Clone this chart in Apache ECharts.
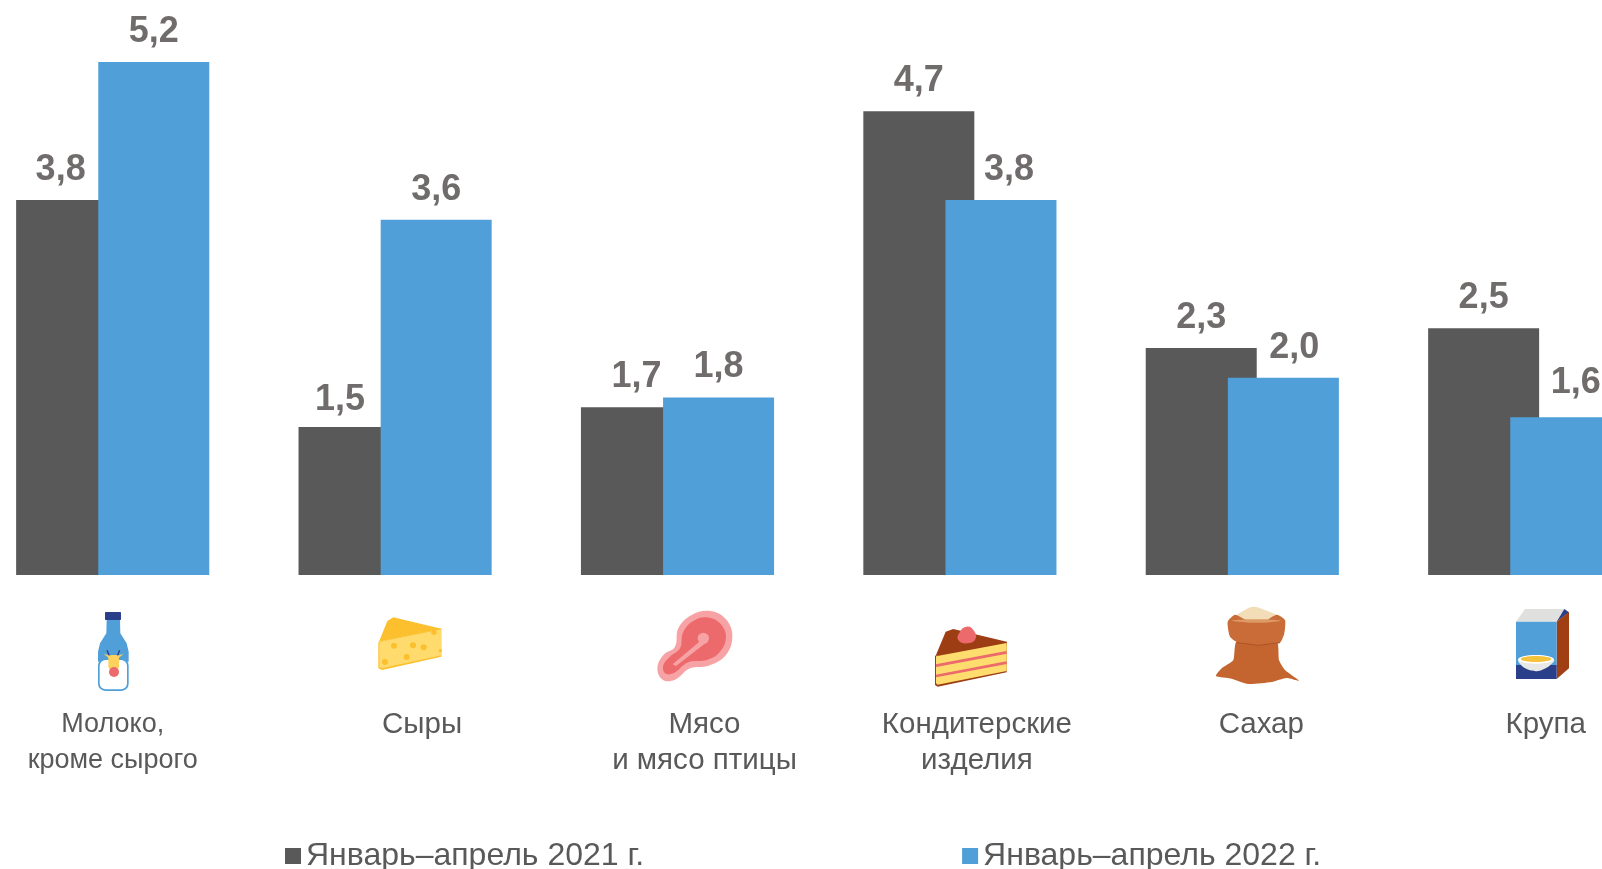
<!DOCTYPE html>
<html>
<head>
<meta charset="utf-8">
<style>
html, body { margin: 0; padding: 0; background: #fff; overflow: hidden; }
#chart { width: 1602px; height: 869px; }
</style>
<script src="https://cdn.jsdelivr.net/npm/echarts@6/dist/echarts.min.js"></script>
</head>
<body>
<div id="chart"></div>
<script>
const categories = ['Молоко,\nкроме сырого', 'Сыры', 'Мясо\nи мясо птицы', 'Кондитерские\nизделия', 'Сахар', 'Крупа']
const seriesNames = ['Январь–апрель 2021 г.', 'Январь–апрель 2022 г.']
const values2021 = [3.8, 1.5, 1.7, 4.7, 2.3, 2.5]
const values2022 = [5.2, 3.6, 1.8, 3.8, 2.0, 1.6]

// подписи в оригинале сдвинуты вручную
const categoryShift = [0, 27, 27, 17, 19, 21]
const categoryFontSize = [27, 29.5, 29.5, 29.5, 29.5, 29.5]
const labelShift2021 = [[-11, 0], [-14, 3], [0, 0], [0, 0], [0, 0], [0, 0]]
const labelShift2022 = [[0, 0], [0, 0], [0, 0], [8, 0], [11, 0], [10, -4]]

const DARK = '#595959'
const BLUE = '#519fd9'
const TEXT = '#595959'
const VALUE_TEXT = '#6f6c6b'
const FONT = '"Liberation Sans", Arial, sans-serif'

function poly(points, fill, smooth) {
    return { type: 'polygon', shape: { points: points, smooth: smooth || 0 }, style: { fill: fill } }
}
function circle(cx, cy, r, fill) {
    return { type: 'circle', shape: { cx: cx, cy: cy, r: r }, style: { fill: fill } }
}
function rect(x, y, w, h, fill, r) {
    return { type: 'rect', shape: { x: x, y: y, width: w, height: h, r: r || 0 }, style: { fill: fill } }
}
function line(x1, y1, x2, y2, color, w) {
    return { type: 'line', shape: { x1: x1, y1: y1, x2: x2, y2: y2 }, style: { stroke: color, lineWidth: w } }
}
function ellipse(cx, cy, rx, ry, fill) {
    return { type: 'ellipse', shape: { cx: cx, cy: cy, rx: rx, ry: ry }, style: { fill: fill } }
}
// иконки рисуем в координатах увеличенного в 3 раза фрагмента
function icon(x, y, children) {
    return { type: 'group', x: x, y: y, scaleX: 1 / 3, scaleY: 1 / 3, silent: true, children: children }
}

const icons = [
    icon(85, 605, [
        poly([[65, 44], [105, 44], [106, 85], [125, 115], [131, 140], [131, 170], [39, 170], [39, 140], [45, 115], [64, 85]], BLUE),
        rect(39, 160, 92, 98, BLUE, 22),
        rect(44, 165, 82, 88, '#fff', 18),
        rect(60, 21, 48, 24, '#2a3f8a', 2),
        line(73, 152, 66, 136, '#2a3f8a', 4),
        line(97, 152, 104, 136, '#2a3f8a', 4),
        poly([[56, 146], [74, 152], [72, 160]], '#fdd25c'),
        poly([[116, 146], [98, 152], [100, 160]], '#fdd25c'),
        rect(70, 150, 32, 44, '#fdd25c', 10),
        circle(87, 201, 15, '#ec6a6b')
    ]),
    icon(370, 605, [
        poly([[27, 110], [52, 48], [70, 37], [214, 71]], '#fcc02e'),
        poly([[25, 110], [214, 70], [214, 155], [36, 195], [25, 190]], '#fbc02d'),
        poly([[28, 111], [214, 73], [214, 151], [35, 190], [28, 186]], '#ffdb6e'),
        circle(72, 122, 9, '#fcc02e'),
        circle(129, 121, 9, '#fcc02e'),
        circle(161, 127, 9, '#fcc02e'),
        circle(110, 156, 9, '#fcc02e'),
        circle(45, 171, 9, '#fcc02e'),
        circle(192, 82, 8, '#fcc02e'),
        circle(211, 137, 5, '#fcc02e')
    ]),
    icon(650, 605, [
        poly([[180, 18], [225, 40], [247, 90], [228, 150], [175, 182], [120, 190], [75, 224], [38, 224], [22, 190], [40, 150], [75, 125], [85, 70], [125, 30]], '#f7a3a5', 0.4),
        poly([[178, 38], [210, 55], [228, 95], [210, 140], [170, 165], [115, 172], [70, 205], [45, 205], [40, 180], [60, 155], [90, 130], [100, 80], [135, 45]], '#ec6a6b', 0.4),
        circle(160, 100, 17, '#f7a3a5'),
        poly([[148, 110], [170, 112], [78, 183], [68, 178]], '#f7a3a5')
    ]),
    icon(925, 615, [
        poly([[32, 122], [62, 50], [85, 42], [245, 80], [245, 90]], '#9c3d13'),
        poly([[30, 122], [245, 80], [245, 172], [38, 215], [30, 210]], '#9c3d13'),
        poly([[33, 124], [245, 84], [245, 168], [38, 209], [33, 205]], '#ffdc6e'),
        line(33, 152, 245, 112, '#ec6a6b', 8),
        line(33, 183, 245, 143, '#ec6a6b', 8),
        poly([[125, 35], [145, 45], [152, 70], [130, 85], [100, 75], [105, 50]], '#ec6a6b', 0.5)
    ]),
    icon(1205, 600, [
        poly([[75, 62], [110, 35], [145, 20], [180, 30], [225, 50], [240, 68], [150, 80]], '#f3dcb8', 0.3),
        poly([[95, 125], [215, 125], [222, 180], [240, 210], [282, 242], [245, 234], [200, 246], [130, 252], [80, 236], [33, 228], [50, 205], [85, 180]], '#c4642f', 0.2),
        poly([[68, 65], [90, 44], [125, 60], [180, 62], [215, 44], [240, 60], [238, 100], [225, 128], [160, 136], [100, 128], [75, 110]], '#c96c38', 0.2),
        poly([[80, 62], [130, 68], [180, 68], [228, 62], [180, 58], [130, 58]], '#dc9a66', 0.2),
        line(95, 128, 160, 136, '#ad5227', 3),
        line(160, 136, 225, 128, '#ad5227', 3)
    ]),
    icon(1505, 600, [
        poly([[33, 65], [60, 27], [178, 27], [155, 65]], '#e0e0de'),
        poly([[155, 65], [178, 27], [192, 37]], '#2a3f8a'),
        poly([[155, 65], [192, 35], [192, 205], [155, 237]], '#a03f14'),
        rect(33, 65, 122, 131, BLUE),
        rect(33, 195, 122, 42, '#2a3f8a'),
        poly([[40, 180], [147, 180], [130, 200], [100, 213], [75, 211], [50, 197]], '#e8e8e6', 0.3),
        ellipse(93, 178, 54, 13, '#fff'),
        ellipse(93, 177, 46, 9, '#f5c23b')
    ])
]

const chart = echarts.init(document.getElementById('chart'), null, { renderer: 'canvas' })

chart.setOption({
    animation: false,
    backgroundColor: '#fff',
    textStyle: { fontFamily: FONT },
    color: [DARK, BLUE],
    legend: {
        left: 280,
        top: 835,
        itemWidth: 16,
        itemHeight: 16,
        itemGap: 318,
        icon: 'rect',
        data: seriesNames,
        textStyle: { color: TEXT, fontSize: 32, fontFamily: FONT }
    },
    graphic: icons,
    grid: {
        outerBoundsMode: 'none',
        left: -28.5,
        top: -17,
        width: 1694.4,
        height: 592
    },
    xAxis: {
        type: 'category',
        data: categories.map((name, i) => ({
            value: name,
            textStyle: { padding: [0, 0, 0, categoryShift[i] * 2], fontSize: categoryFontSize[i] }
        })),
        axisLine: { show: false },
        axisTick: { show: false },
        axisLabel: {
            interval: 0,
            margin: 132,
            color: TEXT,
            fontSize: 29.5,
            lineHeight: 36,
            fontFamily: FONT
        }
    },
    yAxis: {
        type: 'value',
        min: 0,
        max: 6,
        show: false
    },
    series: [
        {
            name: seriesNames[0],
            type: 'bar',
            barWidth: 111,
            barGap: '-26%',
            data: values2021.map((v, i) => ({ value: v, label: { offset: labelShift2021[i] } })),
            label: {
                show: true,
                position: 'top',
                distance: 12,
                color: VALUE_TEXT,
                fontSize: 36,
                fontWeight: 'bold',
                fontFamily: FONT,
                formatter: p => p.value.toFixed(1).replace('.', ',')
            }
        },
        {
            name: seriesNames[1],
            type: 'bar',
            barWidth: 111,
            barGap: '-26%',
            data: values2022.map((v, i) => ({ value: v, label: { offset: labelShift2022[i] } })),
            label: {
                show: true,
                position: 'top',
                distance: 12,
                color: VALUE_TEXT,
                fontSize: 36,
                fontWeight: 'bold',
                fontFamily: FONT,
                formatter: p => p.value.toFixed(1).replace('.', ',')
            }
        }
    ]
})
</script>
</body>
</html>
